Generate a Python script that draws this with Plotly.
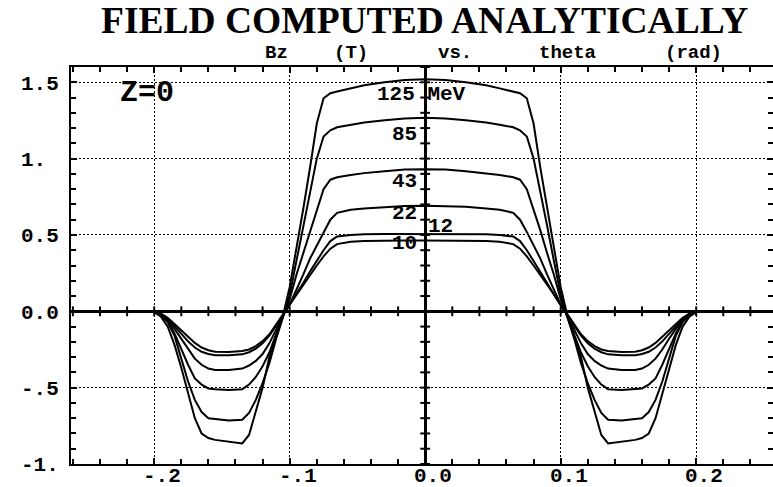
import plotly.graph_objects as go

# ---------------- data ----------------
theta = [-0.2625, -0.215, -0.205, -0.2, -0.195, -0.19, -0.185, -0.18, -0.175, -0.17, -0.165, -0.16,
         -0.155, -0.145, -0.135, -0.13, -0.125, -0.12, -0.115, -0.11, -0.105, -0.1, -0.095, -0.09,
         -0.085, -0.08, -0.075, -0.07, -0.065, -0.055, -0.045, -0.03, -0.015,
         0.0,
         0.015, 0.03, 0.045, 0.055, 0.065, 0.07, 0.075, 0.08, 0.085, 0.09, 0.095, 0.1,
         0.105, 0.11, 0.115, 0.12, 0.125, 0.13, 0.135, 0.145, 0.155, 0.16, 0.165, 0.17,
         0.175, 0.18, 0.185, 0.19, 0.195, 0.2, 0.205, 0.215, 0.2625]

bz_125 = [0.0, 0.0, 0.0, -0.005, -0.035, -0.10, -0.22, -0.37, -0.54, -0.70, -0.80, -0.83, -0.842, -0.855,
          -0.865, -0.81, -0.66, -0.50, -0.30, -0.165, -0.03, 0.16, 0.41, 0.67, 0.94, 1.23, 1.395, 1.428,
          1.44, 1.46, 1.48, 1.50, 1.515,
          1.52,
          1.515, 1.50, 1.48, 1.46, 1.44, 1.428, 1.395, 1.23, 0.94, 0.67, 0.41, 0.16, -0.03, -0.165, -0.30,
          -0.50, -0.66, -0.81, -0.865, -0.855, -0.842, -0.83, -0.80, -0.70, -0.54, -0.37, -0.22, -0.10,
          -0.035, -0.005, 0.0, 0.0, 0.0]

bz_85 = [0.0, 0.0, 0.0, -0.005, -0.025, -0.07, -0.16, -0.31, -0.46, -0.58, -0.66, -0.70, -0.705, -0.715,
         -0.71, -0.665, -0.58, -0.47, -0.34, -0.18, -0.04, 0.11, 0.33, 0.56, 0.79, 1.00, 1.145, 1.185,
         1.205, 1.222, 1.237, 1.252, 1.262,
         1.267,
         1.262, 1.252, 1.237, 1.222, 1.205, 1.185, 1.145, 1.00, 0.79, 0.56, 0.33, 0.11, -0.04, -0.18, -0.34,
         -0.47, -0.58, -0.665, -0.71, -0.715, -0.705, -0.70, -0.66, -0.58, -0.46, -0.31, -0.16, -0.07,
         -0.025, -0.005, 0.0, 0.0, 0.0]

bz_43 = [0.0, 0.0, 0.0, -0.004, -0.02, -0.065, -0.145, -0.25, -0.35, -0.44, -0.48, -0.505, -0.51, -0.515,
         -0.51, -0.48, -0.43, -0.36, -0.27, -0.15, -0.04, 0.08, 0.24, 0.38, 0.53, 0.67, 0.80, 0.862,
         0.878, 0.893, 0.905, 0.918, 0.928,
         0.931,
         0.928, 0.918, 0.905, 0.893, 0.878, 0.862, 0.80, 0.67, 0.53, 0.38, 0.24, 0.08, -0.04, -0.15, -0.27,
         -0.36, -0.43, -0.48, -0.51, -0.515, -0.51, -0.505, -0.48, -0.44, -0.35, -0.25, -0.145, -0.065,
         -0.02, -0.004, 0.0, 0.0, 0.0]

bz_22 = [0.0, 0.0, 0.0, -0.004, -0.018, -0.06, -0.115, -0.18, -0.25, -0.31, -0.35, -0.375, -0.385, -0.385,
         -0.375, -0.355, -0.325, -0.28, -0.21, -0.12, -0.03, 0.045, 0.14, 0.24, 0.345, 0.43, 0.52, 0.60,
         0.645, 0.665, 0.674, 0.684, 0.690,
         0.692,
         0.690, 0.684, 0.674, 0.665, 0.645, 0.60, 0.52, 0.43, 0.345, 0.24, 0.14, 0.045, -0.03, -0.12, -0.21,
         -0.28, -0.325, -0.355, -0.375, -0.385, -0.385, -0.375, -0.35, -0.31, -0.25, -0.18, -0.115, -0.06,
         -0.018, -0.004, 0.0, 0.0, 0.0]

bz_12 = [0.0, 0.0, 0.0, -0.004, -0.017, -0.05, -0.097, -0.148, -0.197, -0.237, -0.265, -0.28, -0.287,
         -0.288, -0.282, -0.268, -0.245, -0.21, -0.16, -0.095, -0.025, 0.04, 0.11, 0.185, 0.26, 0.33, 0.40,
         0.46, 0.49, 0.50, 0.505, 0.507, 0.507,
         0.507,
         0.507, 0.507, 0.505, 0.50, 0.49, 0.46, 0.40, 0.33, 0.26, 0.185, 0.11, 0.04, -0.025, -0.095, -0.16,
         -0.21, -0.245, -0.268, -0.282, -0.288, -0.287, -0.28, -0.265, -0.237, -0.197, -0.148, -0.097,
         -0.05, -0.017, -0.004, 0.0, 0.0, 0.0]

bz_10 = [0.0, 0.0, 0.0, -0.004, -0.015, -0.043, -0.083, -0.125, -0.167, -0.207, -0.237, -0.255, -0.265,
         -0.266, -0.26, -0.25, -0.228, -0.195, -0.15, -0.085, -0.02, 0.04, 0.11, 0.175, 0.24, 0.30, 0.36,
         0.41, 0.44, 0.455, 0.46, 0.463, 0.464,
         0.464,
         0.464, 0.463, 0.46, 0.455, 0.44, 0.41, 0.36, 0.30, 0.24, 0.175, 0.11, 0.04, -0.02, -0.085, -0.15,
         -0.195, -0.228, -0.25, -0.26, -0.266, -0.265, -0.255, -0.237, -0.207, -0.167, -0.125, -0.083,
         -0.043, -0.015, -0.004, 0.0, 0.0, 0.0]

series = [bz_125, bz_85, bz_43, bz_22, bz_12, bz_10]

x_tickvals = [-0.2, -0.1, 0.0, 0.1, 0.2]
x_ticktext = ["-.2", "-.1", "0.0", "0.1", "0.2"]
y_tickvals = [-1.0, -0.5, 0.0, 0.5, 1.0, 1.5]
y_ticktext = ["-1.", "-.5", "0.0", "0.5", "1.\u00a0", "1.5"]

# curve labels: (text, x, y, anchor)
curve_labels = [("125 MeV", -0.0024, 1.418, "center"),
                ("85", -0.0046, 1.157, "right"),
                ("43", -0.0046, 0.850, "right"),
                ("22", -0.0046, 0.640, "right"),
                ("12", 0.0005, 0.556, "left"),
                ("10", -0.0046, 0.444, "right")]

x_minor_ticks = [round(-0.26 + 0.02 * i, 2) for i in range(27)]
y_minor_ticks = [round(-1.0 + 0.1 * i, 1) for i in range(27)]

for s in series:
    assert len(s) == len(theta)

# ---------------- figure ----------------
fig = go.Figure()
for s in series:
    fig.add_trace(go.Scatter(x=theta, y=s, mode="lines",
                             line=dict(color="black", width=2), hoverinfo="skip"))

# cross ticks on the zero axes
fig.add_trace(go.Scatter(x=x_minor_ticks, y=[0] * len(x_minor_ticks), mode="markers",
                         marker=dict(symbol="line-ns", size=7, line=dict(color="black", width=2)),
                         hoverinfo="skip"))
fig.add_trace(go.Scatter(x=[0] * len(y_minor_ticks), y=y_minor_ticks, mode="markers",
                         marker=dict(symbol="line-ew", size=7, line=dict(color="black", width=2)),
                         hoverinfo="skip"))

mono = dict(family="Liberation Mono", size=21, color="black", weight="bold")

fig.update_layout(
    width=773, height=487,
    margin=dict(l=71, r=0, t=67, b=23),
    paper_bgcolor="white", plot_bgcolor="white",
    showlegend=False, hovermode=False,
    xaxis=dict(range=[-0.2614, 0.2567], tickmode="array", tickvals=x_tickvals, ticktext=[""] * 5,
               showgrid=True, gridcolor="black", gridwidth=1.2, griddash="2px,2px",
               zeroline=True, zerolinecolor="black", zerolinewidth=2.5,
               showline=True, linecolor="black", linewidth=2, mirror="ticks",
               ticks="inside", ticklen=6, tickwidth=2, tickcolor="black",
               minor=dict(dtick=0.02, tick0=0, ticks="inside", ticklen=5, tickwidth=2,
                          tickcolor="black", showgrid=False),
               automargin=False, fixedrange=True),
    yaxis=dict(range=[-1.0, 1.6], tickmode="array", tickvals=y_tickvals, ticktext=y_ticktext,
               showgrid=True, gridcolor="black", gridwidth=1.2, griddash="2px,2px",
               zeroline=True, zerolinecolor="black", zerolinewidth=2.5,
               showline=True, linecolor="black", linewidth=2, mirror="ticks",
               ticks="inside", ticklen=6, tickwidth=2, tickcolor="black",
               minor=dict(dtick=0.1, tick0=0, ticks="inside", ticklen=5, tickwidth=2,
                          tickcolor="black", showgrid=False),
               tickfont=mono, ticklabelstandoff=6, automargin=False, fixedrange=True),
)

ann = []
# x tick labels (placed just under the frame, slightly right of each tick as in the original)
for val, txt in zip(x_tickvals, x_ticktext):
    ann.append(dict(text=txt, x=val + 0.0059, xref="x", yref="paper", y=-0.031,
                    xanchor="center", yanchor="middle", showarrow=False, font=mono))
ann.append(dict(text="FIELD COMPUTED ANALYTICALLY", xref="paper", yref="paper",
                x=0.5036, y=1.118, xanchor="center", yanchor="middle", showarrow=False,
                font=dict(family="Liberation Serif", size=37.5, color="black", weight="bold")))
for word, px in [("Bz", 276), ("(T)", 351), ("vs.", 455), ("theta", 567), ("(rad)", 693)]:
    ann.append(dict(text=word, xref="paper", yref="paper", x=(px - 71) / 702, y=1.035,
                    xanchor="center", yanchor="middle", showarrow=False,
                    font=dict(family="Liberation Mono", size=19, color="black", weight="bold")))
ann.append(dict(text="Z=0", x=-0.2053, y=1.431, xref="x", yref="y", showarrow=False,
                xanchor="center", yanchor="middle",
                font=dict(family="Liberation Mono", size=30, color="black", weight="bold")))
for txt, lx, ly, anc in curve_labels:
    ann.append(dict(text=txt, x=lx, y=ly, xref="x", yref="y", showarrow=False,
                    xanchor=anc, yanchor="middle",
                    font=dict(family="Liberation Mono", size=21, color="black", weight="bold")))
fig.update_layout(annotations=ann)

fig.write_html("out.html")
